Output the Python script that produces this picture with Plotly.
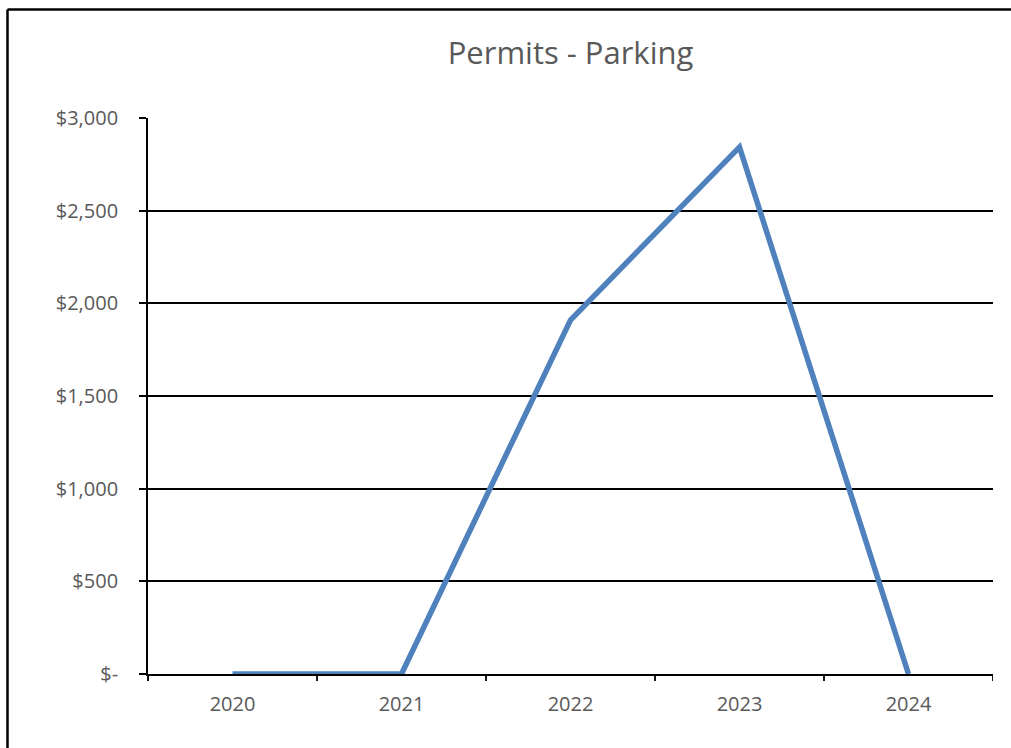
import plotly.graph_objects as go

years = ["2020", "2021", "2022", "2023", "2024"]
values = [0, 0, 1910, 2843, 0]
tick_vals = [0, 500, 1000, 1500, 2000, 2500, 3000]
tick_text = ["$-", "$500", "$1,000", "$1,500", "$2,000", "$2,500", "$3,000"]

W, H = 1011, 748
L, R, T, B = 148, 18, 118, 74
pw, ph = W - L - R, H - T - B

fig = go.Figure()
fig.add_trace(go.Scatter(
    x=[0, 1, 2, 3, 4], y=values, mode="lines",
    line=dict(color="#4F81BD", width=5.5, shape="linear"),
    hoverinfo="skip", showlegend=False, cliponaxis=False,
))

fig.update_layout(
    width=W, height=H,
    margin=dict(l=L, r=R, t=T, b=B),
    paper_bgcolor="white", plot_bgcolor="white",
    font=dict(family="Open Sans, Liberation Sans, sans-serif", color="#595959"),
    title=dict(text="Permits - Parking", x=0.5, xref="paper", xanchor="center",
               y=(H - 53) / H, yanchor="middle",
               font=dict(size=31, color="#595959")),
    xaxis=dict(
        range=[-0.5, 4.5], tickmode="array", tickvals=[0, 1, 2, 3, 4], ticktext=years,
        showgrid=False, zeroline=False, showline=True, linecolor="black", linewidth=1.8,
        ticks="", tickfont=dict(size=20, color="#595959"), ticklabelstandoff=11,
        fixedrange=True,
    ),
    yaxis=dict(
        range=[0, 3000], tickmode="array", tickvals=tick_vals, ticktext=tick_text,
        showgrid=True, gridcolor="black", gridwidth=1.8, zeroline=False,
        showline=True, linecolor="black", linewidth=1.8,
        ticks="outside", ticklen=7, tickcolor="black", tickwidth=1.8,
        tickfont=dict(size=20, color="#595959"), ticklabelstandoff=17,
        fixedrange=True,
    ),
)

shapes = []
# x-axis boundary tick marks between categories
for b in [-0.5, 0.5, 1.5, 2.5, 3.5, 4.5]:
    shapes.append(dict(type="line", xref="x", yref="paper", x0=b, x1=b,
                       y0=0, y1=-7 / ph, line=dict(color="black", width=1.8)))
# y axis extends slightly below baseline
shapes.append(dict(type="line", xref="paper", yref="paper", x0=0, x1=0,
                   y0=0, y1=-7 / ph, line=dict(color="black", width=1.8)))
# outer chart border: top and left edges (others lie outside the window)
bx0 = (7.5 - L) / pw
by1 = (H - B - 9.5) / ph
shapes.append(dict(type="line", xref="paper", yref="paper",
                   x0=bx0, x1=(W - L) / pw, y0=by1, y1=by1,
                   line=dict(color="black", width=2.5), layer="above"))
shapes.append(dict(type="line", xref="paper", yref="paper",
                   x0=bx0, x1=bx0, y0=-B / ph, y1=by1,
                   line=dict(color="black", width=2.5), layer="above"))
fig.update_layout(shapes=shapes)

fig.write_html(
    "out.html", config={"displayModeBar": False},
    post_script=("document.body.style.margin='0';"
                 "document.body.style.overflow='hidden';"
                 "document.documentElement.style.overflow='hidden';"),
)
